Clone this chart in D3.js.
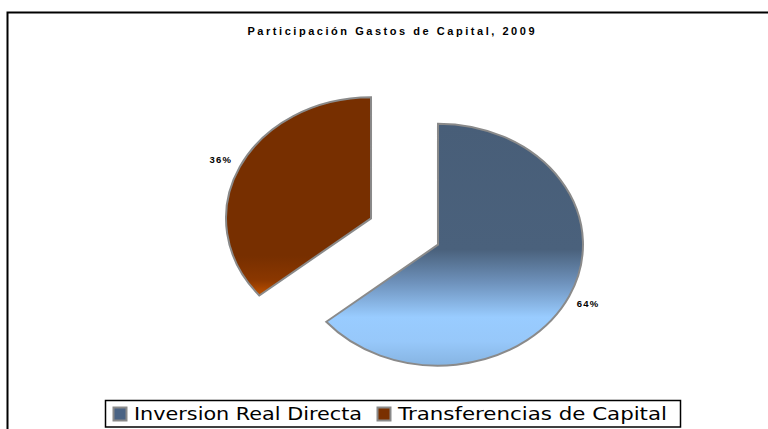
<!DOCTYPE html>
<html><head><meta charset="utf-8">
<script src="https://cdn.jsdelivr.net/npm/d3@7"></script>
<style>body{margin:0;background:#fff}svg{display:block}</style>
</head><body>
<svg id="c" width="768" height="429"></svg>
<script>
const title = "Participación Gastos de Capital, 2009";
const categories = ["Inversion Real Directa", "Transferencias de Capital"];
const values = [64, 36];
const valueLabels = ["64%", "36%"];

const svg = d3.select("#c");
const W = 768, H = 429;
svg.append("rect").attr("width", W).attr("height", H).attr("fill", "#fff");

// outer frame (top and left visible)
svg.append("path").attr("d", "M7.5,429 V12.5 H768").attr("fill", "none")
  .attr("stroke", "#000").attr("stroke-width", 2);

// title
svg.append("text").attr("x", 391).attr("y", 35).attr("text-anchor", "middle")
  .attr("font-family", "Liberation Sans, Arial, sans-serif").attr("font-weight", "bold")
  .attr("font-size", 11).attr("textLength", 287).attr("lengthAdjust", "spacing")
  .attr("fill", "#000").text(title);

const defs = svg.append("defs");
const g1 = defs.append("linearGradient").attr("id", "gBlue").attr("x1", 0).attr("y1", 0).attr("x2", 0).attr("y2", 1);
[[0, "#485e78"], [0.52, "#4a617c"], [0.66, "#6f93bd"], [0.8, "#99ccff"], [0.9, "#97c8fa"], [1, "#86b4e2"]]
  .forEach(s => g1.append("stop").attr("offset", s[0]).attr("stop-color", s[1]));
const g2 = defs.append("linearGradient").attr("id", "gBrown").attr("x1", 0).attr("y1", 0).attr("x2", 0).attr("y2", 1);
[[0, "#772f00"], [0.8, "#772f00"], [0.92, "#8a3700"], [1, "#c05200"]]
  .forEach(s => g2.append("stop").attr("offset", s[0]).attr("stop-color", s[1]));
const fills = ["url(#gBlue)", "url(#gBrown)"];
const swatch = ["#4a6384", "#7a3000"];

const rx = 145, ry = 121, k = ry / rx, cx = 404.5, cy = 231.5, explode = 37, labelR = 166;
const pie = d3.pie().sort(null).value(d => d)(values);
const arc = d3.arc().innerRadius(0).outerRadius(rx);
const root = svg.append("g").attr("transform", `translate(${cx},${cy}) scale(1,${k})`);

pie.forEach((p, i) => {
  const mid = (p.startAngle + p.endAngle) / 2;
  const ox = Math.sin(mid) * explode, oy = -Math.cos(mid) * explode;
  root.append("path").attr("d", arc(p)).attr("transform", `translate(${ox},${oy})`)
    .attr("fill", fills[i]).attr("stroke", "#8a8a8a").attr("stroke-width", 2)
    .attr("vector-effect", "non-scaling-stroke").attr("stroke-linejoin", "miter");
  const lx = cx + Math.sin(mid) * (labelR + explode), ly = cy - Math.cos(mid) * (labelR + explode) * k;
  svg.append("text").attr("x", lx).attr("y", ly + 3.5).attr("text-anchor", "middle")
    .attr("font-family", "Liberation Sans, Arial, sans-serif").attr("font-weight", "bold")
    .attr("font-size", 9.5).attr("letter-spacing", 1.2).attr("fill", "#000").text(valueLabels[i]);
});

// legend
svg.append("rect").attr("x", 105.5).attr("y", 400.5).attr("width", 575).attr("height", 26.5)
  .attr("fill", "#fff").attr("stroke", "#000").attr("stroke-width", 1.5);
const legItems = [{x: 113, tx: 134, tl: 228}, {x: 377, tx: 398, tl: 269}];
categories.forEach((c, i) => {
  const it = legItems[i];
  svg.append("rect").attr("x", it.x + 0.5).attr("y", 407.5).attr("width", 13).attr("height", 13)
    .attr("fill", swatch[i]).attr("stroke", "#8a8a8a").attr("stroke-width", 2);
  svg.append("text").attr("x", it.tx).attr("y", 420).attr("font-family", "DejaVu Sans, Verdana, sans-serif")
    .attr("font-size", 18).attr("textLength", it.tl).attr("lengthAdjust", "spacingAndGlyphs")
    .attr("fill", "#000").text(c);
});
</script>
</body></html>
